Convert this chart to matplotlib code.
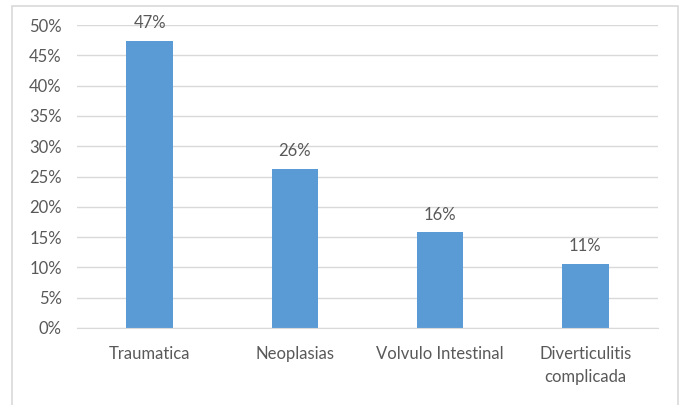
import matplotlib
matplotlib.use("Agg")
import matplotlib.pyplot as plt
from matplotlib.patches import Rectangle
from matplotlib.ticker import FuncFormatter

categories = ["Traumatica", "Neoplasias", "Volvulo Intestinal", "Diverticulitis\ncomplicada"]
shares = [47.37, 26.32, 15.79, 10.53]
y_ticks = [0, 5, 10, 15, 20, 25, 30, 35, 40, 45, 50]

bar_color = "#5B9BD5"
text_color = "#595959"
grid_color = "#D9D9D9"

plt.rcParams["font.family"] = ["Lato", "DejaVu Sans"]

fig = plt.figure(figsize=(6.85, 4.05), dpi=100)
W, H = 685, 405

# outer chart frame (bottom edge runs off the image)
fig.patches.append(Rectangle((12 / W, -0.02), (678 - 12) / W, 1.02 - 6 / H,
                             transform=fig.transFigure, fill=False,
                             edgecolor=grid_color, linewidth=1.2))

ax = fig.add_axes([77 / W, 1 - 328 / H, (658 - 77) / W, (328 - 25) / H])
x = range(len(categories))
bars = ax.bar(x, shares, width=0.32, color=bar_color, zorder=3)

for rect, v in zip(bars, shares):
    ax.annotate(f"{v:.0f}%", (rect.get_x() + rect.get_width() / 2, v),
                xytext=(0, 7), textcoords="offset points", ha="center", va="bottom",
                fontsize=12, color=text_color)

ax.set_xlim(-0.5, len(categories) - 0.5)
ax.set_ylim(0, 50)
ax.set_yticks(y_ticks)
ax.yaxis.set_major_formatter(FuncFormatter(lambda v, _: f"{v:.0f}%"))
ax.set_xticks(list(x))
ax.set_xticklabels(categories, linespacing=1.55)
ax.tick_params(axis="both", length=0, labelsize=12, labelcolor=text_color)
ax.tick_params(axis="x", pad=13)
ax.tick_params(axis="y", pad=11)

ax.grid(axis="y", color=grid_color, linewidth=1, zorder=0)
for side in ["top", "right", "left"]:
    ax.spines[side].set_visible(False)
ax.spines["bottom"].set_color(grid_color)
ax.spines["bottom"].set_zorder(4)

fig.savefig("out.png", dpi=100, facecolor="white")
